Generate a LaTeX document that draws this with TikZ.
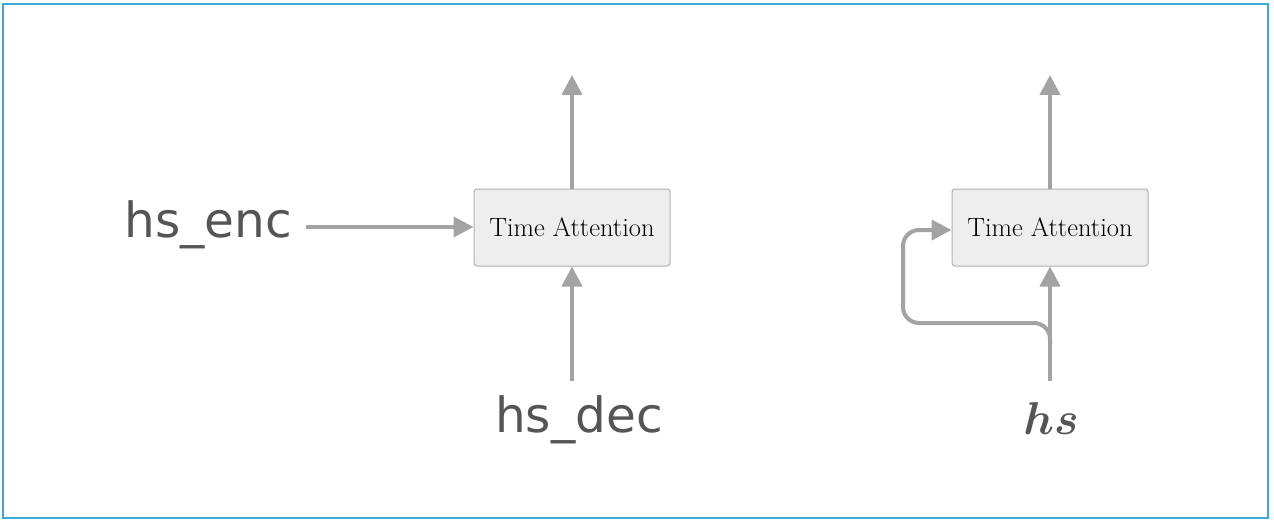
\documentclass[tikz,border=0pt]{standalone}
\usepackage{graphicx}
\usepackage{fontspec}
\usepackage{amsmath,bm}
\usetikzlibrary{arrows.meta}
\newfontfamily\labfont{DejaVu Sans}
\definecolor{framecol}{HTML}{3BA9D6}
\definecolor{arrcol}{HTML}{A3A3A3}
\definecolor{boxfill}{HTML}{EEEEEE}
\definecolor{boxline}{HTML}{B0B0B0}
\definecolor{labcol}{HTML}{555555}
\begin{document}
\begin{tikzpicture}[x=1pt,y=-1pt,
  attbox/.style={draw=boxline,fill=boxfill,line width=1pt,rounded corners=3pt,
    minimum width=196pt,minimum height=77pt,inner sep=0pt,
    font=\fontsize{26.5}{30}\selectfont},
  lab/.style={text=labcol,font=\labfont\fontsize{48.5}{58}\selectfont,inner sep=0pt},
  flow/.style={draw=arrcol,line width=4pt,-{Triangle[length=20pt,width=20pt]}}]
\useasboundingbox (0,0) rectangle (1274,524);
\draw[framecol,line width=2pt] (3,4) rectangle (1268,518);
% left block
\node[attbox] (ta1) at (572,227.5) {Time Attention};
\coordinate (out1) at (572,75);
\node[lab,anchor=base] (enc) at (208,237) {hs\_enc};
\node[lab,anchor=base] (dec) at (579,432) {hs\_dec};
\coordinate (encend) at (306,227);
\coordinate (decend) at (572,381);
\draw[flow] (ta1.north) -- (out1);
\draw[flow] (encend) -- (encend -| ta1.west);
\draw[flow] (decend) -- (ta1.south);
% right block
\node[attbox] (ta2) at (1050,227.5) {Time Attention};
\coordinate (out2) at (1050,75);
\node[text=labcol,inner sep=0pt,anchor=base] (hs) at (1051,434) {\scalebox{1.85}{\Huge$\bm{hs}$}};
\coordinate (hsend) at (1050,381);
\coordinate (branch) at (1050,345);
\coordinate (loopy) at (903,230);
\draw[flow] (ta2.north) -- (out2);
\draw[flow] (hsend) -- (ta2.south);
\draw[flow,rounded corners=16pt] (branch) -- (1050,323) -- (903,323) -- (loopy) -- (loopy -| ta2.west);
\end{tikzpicture}
\end{document}
